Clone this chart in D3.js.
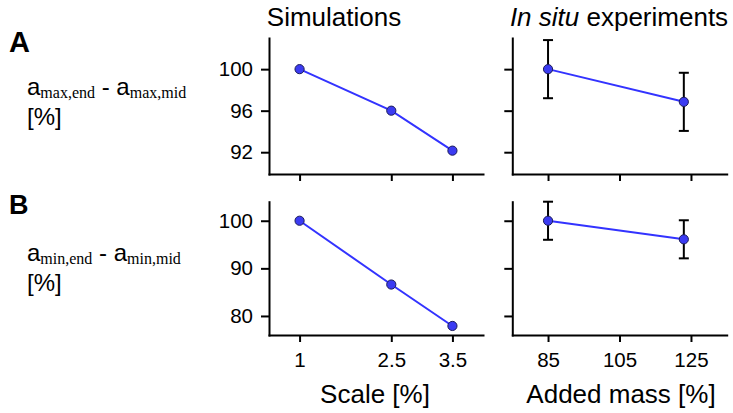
<!DOCTYPE html>
<html>
<head>
<meta charset="utf-8">
<script src="https://cdn.jsdelivr.net/npm/d3@7"></script>
<style>
html, body { margin: 0; padding: 0; background: #fff; }
svg { display: block; }
</style>
</head>
<body>
<svg id="chart" width="733" height="413"></svg>
<script>
// ---- data ----
const simScale = [1, 2.5, 3.5];
const simMax = [100, 96, 92.15];
const simMin = [100, 86.6, 77.9];
const expMass = [85, 123];
const expMax = [100, 96.85];
const expMaxErr = [2.8, 2.8];
const expMin = [100, 96.1];
const expMinErr = [4, 4];
const scaleTicks = [1, 2.5, 3.5];
const massTicks = [85, 105, 125];
const maxTicks = [100, 96, 92];
const minTicks = [100, 90, 80];

const svg = d3.select("#chart");
const FONT = "'Liberation Sans', Arial, Helvetica, sans-serif";
const SERIF = "'Liberation Serif', 'Times New Roman', serif";
const LINE = "#3333ff";
const FILL = "#3b3bf2";
const MSTROKE = "#1c1c5a";

const xSim = d3.scaleLinear().domain([0.5, 4]).range([269, 483]);
const xExp = d3.scaleLinear().domain([75, 135]).range([512.3, 726.7]);
const yTop = d3.scaleLinear().domain([89.9, 103]).range([174, 38]);
const yBot = d3.scaleLinear().domain([76, 104]).range([335, 201.7]);

function drawAxes(x, y, xTicks, yTicks, xLabels, yLabels) {
  const gx = svg.append("g").attr("transform", `translate(0,${y.range()[0]})`)
    .call(d3.axisBottom(x).tickValues(xTicks).tickSize(7).tickSizeOuter(0).tickPadding(10)
      .tickFormat(xLabels ? (d => String(d)) : (() => "")));
  const gy = svg.append("g").attr("transform", `translate(${x.range()[0]},0)`)
    .call(d3.axisLeft(y).tickValues(yTicks).tickSize(8).tickSizeOuter(0).tickPadding(8)
      .tickFormat(yLabels ? (d => String(d)) : (() => "")));
  [gx, gy].forEach(g => {
    g.selectAll("path.domain").attr("stroke", "#000").attr("stroke-width", 2).attr("stroke-linecap", "square");
    g.selectAll(".tick line").attr("stroke", "#000").attr("stroke-width", 2);
    g.selectAll("text").attr("font-family", FONT).attr("font-size", 20.5).attr("fill", "#000");
  });
}

function drawSeries(x, y, xs, ys, errs) {
  const pts = xs.map((d, i) => ({ x: d, y: ys[i], e: errs ? errs[i] : 0 }));
  svg.append("path").datum(pts)
    .attr("d", d3.line().x(d => x(d.x)).y(d => y(d.y)))
    .attr("fill", "none").attr("stroke", LINE).attr("stroke-width", 2);
  if (errs) {
    const g = svg.append("g").attr("stroke", "#000").attr("stroke-width", 2);
    pts.forEach(d => {
      g.append("line").attr("x1", x(d.x)).attr("x2", x(d.x)).attr("y1", y(d.y - d.e)).attr("y2", y(d.y + d.e));
      g.append("line").attr("x1", x(d.x) - 5).attr("x2", x(d.x) + 5).attr("y1", y(d.y + d.e)).attr("y2", y(d.y + d.e));
      g.append("line").attr("x1", x(d.x) - 5).attr("x2", x(d.x) + 5).attr("y1", y(d.y - d.e)).attr("y2", y(d.y - d.e));
    });
  }
  svg.append("g").selectAll("circle").data(pts).join("circle")
    .attr("cx", d => x(d.x)).attr("cy", d => y(d.y)).attr("r", 4.6)
    .attr("fill", FILL).attr("stroke", MSTROKE).attr("stroke-width", 1);
}

drawAxes(xSim, yTop, scaleTicks, maxTicks, false, true);
drawAxes(xExp, yTop, massTicks, maxTicks, false, false);
drawAxes(xSim, yBot, scaleTicks, minTicks, true, true);
drawAxes(xExp, yBot, massTicks, minTicks, true, false);

drawSeries(xSim, yTop, simScale, simMax, null);
drawSeries(xExp, yTop, expMass, expMax, expMaxErr);
drawSeries(xSim, yBot, simScale, simMin, null);
drawSeries(xExp, yBot, expMass, expMin, expMinErr);

// titles
svg.append("text").attr("x", 334).attr("y", 26).attr("text-anchor", "middle")
  .attr("font-family", FONT).attr("font-size", 26).text("Simulations");
const t2 = svg.append("text").attr("x", 619).attr("y", 26).attr("text-anchor", "middle")
  .attr("font-family", FONT).attr("font-size", 26);
t2.append("tspan").attr("font-style", "italic").text("In situ");
t2.append("tspan").text(" experiments");

svg.append("text").attr("x", 375).attr("y", 403).attr("text-anchor", "middle")
  .attr("font-family", FONT).attr("font-size", 26).text("Scale [%]");
svg.append("text").attr("x", 621).attr("y", 403).attr("text-anchor", "middle")
  .attr("font-family", FONT).attr("font-size", 26).text("Added mass [%]");

// panel letters and row labels
svg.append("text").attr("x", 9).attr("y", 52).attr("font-family", FONT).attr("font-weight", "bold")
  .attr("font-size", 29).text("A");
svg.append("text").attr("x", 9).attr("y", 214).attr("font-family", FONT).attr("font-weight", "bold")
  .attr("font-size", 27).text("B");

function rowLabel(y, s1, s2) {
  const t = svg.append("text").attr("x", 27).attr("y", y).attr("font-family", FONT).attr("font-size", 24);
  t.append("tspan").text("a");
  t.append("tspan").attr("font-family", SERIF).attr("font-size", 16).attr("dy", 3).text(s1);
  t.append("tspan").attr("dy", -3).text(" - a");
  t.append("tspan").attr("font-family", SERIF).attr("font-size", 16).attr("dy", 3).text(s2);
  svg.append("text").attr("x", 27).attr("y", y + 30).attr("font-family", FONT).attr("font-size", 24).text("[%]");
}
rowLabel(95, "max,end", "max,mid");
rowLabel(261, "min,end", "min,mid");
</script>
</body>
</html>
